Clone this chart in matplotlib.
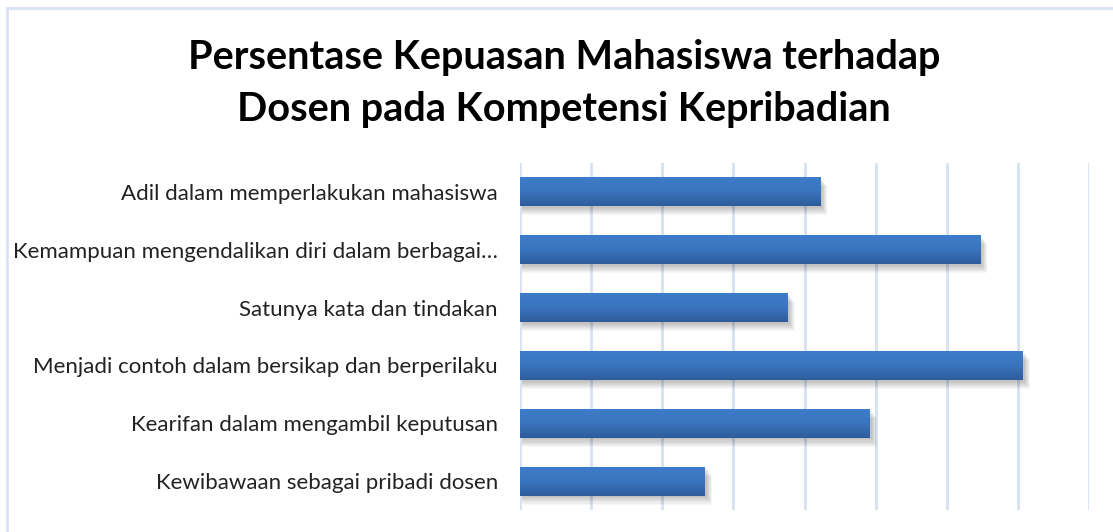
import numpy as np
import matplotlib.pyplot as plt
from matplotlib.patches import Rectangle
from matplotlib.colors import LinearSegmentedColormap

# data (grid step = 10)
categories = [
    'Adil dalam memperlakukan mahasiswa',
    'Kemampuan mengendalikan diri dalam berbagai\u2026',
    'Satunya kata dan tindakan',
    'Menjadi contoh dalam bersikap dan berperilaku',
    'Kearifan dalam mengambil keputusan',
    'Kewibawaan sebagai pribadi dosen',
]
values = [42.2, 64.7, 37.6, 70.7, 49.2, 26.0]
title_text = 'Persentase Kepuasan Mahasiswa terhadap\nDosen pada Kompetensi Kepribadian'

FONT = ['Lato', 'DejaVu Sans']
GRID = '#d6e2f2'
BAR_H = 0.5

fig = plt.figure(figsize=(11.13, 5.32), dpi=100)
fig.patch.set_facecolor('white')

# chart frame (only left and top edges are visible in the crop)
fig.add_artist(plt.Line2D([7 / 1113, 7 / 1113], [0, 1 - 8 / 532], color='#dae3f3', lw=2))
fig.add_artist(plt.Line2D([7 / 1113, 1], [1 - 8 / 532, 1 - 8 / 532], color='#dae3f3', lw=2))

fig.text(0.507, 1 - 83 / 532, title_text, ha='center', va='center', fontsize=28.5,
         fontweight='bold', family=FONT, linespacing=1.5)

ax = fig.add_axes([520 / 1113, 1 - 510 / 532, (1089 - 520) / 1113, (510 - 163) / 532])
ax.set_xlim(0, 80)
ax.set_ylim(len(categories) - 0.5, -0.5)
ax.set_xticks(np.arange(0, 81, 10))
ax.set_xticklabels([])
ax.tick_params(axis='x', length=0)
ax.tick_params(axis='y', length=0, pad=16)
ax.set_yticks(range(len(categories)))
ax.set_yticklabels(categories, fontsize=16, family=FONT, color='#222222')
ax.grid(axis='x', color=GRID, lw=2)
ax.set_axisbelow(True)
for s in ax.spines.values():
    s.set_visible(False)

cmap = LinearSegmentedColormap.from_list('bar', ['#3d7ccb', '#3a74bd', '#2d5c9c'])
grad = np.linspace(0, 1, 64).reshape(-1, 1)

for i, v in enumerate(values):
    y0 = i - BAR_H / 2
    # soft shadow below the bar
    for k in range(8):
        off = 0.03 + k * 0.018
        ax.add_patch(Rectangle((0.3, y0 + off), v + k * 0.1, BAR_H, color='black',
                               alpha=0.03, lw=0, zorder=2))
    im = ax.imshow(grad, extent=(0, v, i + BAR_H / 2, y0), cmap=cmap, aspect='auto',
                   zorder=3, interpolation='bilinear')
    clip = Rectangle((0, y0), v, BAR_H, transform=ax.transData, facecolor='none', lw=0)
    ax.add_patch(clip)
    im.set_clip_path(clip)

ax.set_xlim(0, 80)
ax.set_ylim(len(categories) - 0.5, -0.5)

fig.savefig('out.png', dpi=100, facecolor='white')
